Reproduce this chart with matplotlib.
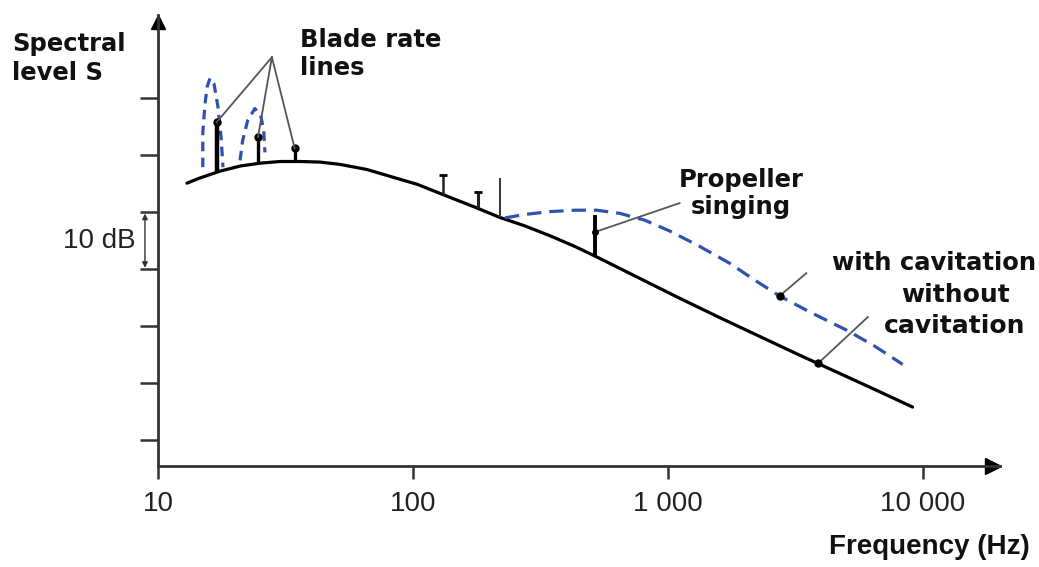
import matplotlib.pyplot as plt

# spectrum without cavitation (solid black)
base_freq = [13, 14.6, 17.5, 21.0, 25.1, 30.1, 36.1, 43.2, 51.7, 66.0, 81.3, 104, 140,
             175, 219, 275, 344, 432, 541, 776, 1114, 1600, 2296, 3297, 4733, 6780, 9140]
base_level = [55.1, 56.0, 57.2, 58.1, 58.6, 58.9, 58.9, 58.8, 58.4, 57.5, 56.3, 54.9, 52.6,
              50.9, 49.1, 47.6, 45.9, 44.0, 41.9, 38.4, 34.9, 31.5, 28.2, 24.9, 21.7, 18.5, 15.8]

# spectrum with cavitation (dashed blue)
cav_freq = [230, 275, 344, 432, 527, 649, 813, 1019, 1335, 1750, 2193, 2748, 3606, 5036, 6486, 8356]
cav_level = [49.0, 49.6, 50.1, 50.35, 50.35, 49.8, 48.6, 46.7, 44.0, 41.05, 38.1, 35.3, 32.5,
             29.3, 26.5, 23.3]

# blade rate bumps with cavitation
bump1_freq = [15.0, 15.0, 15.3, 15.6, 16.0, 16.6, 17.2, 17.7, 18.0]
bump1_level = [57.9, 64.0, 69.0, 72.0, 73.5, 72.5, 68.5, 63.0, 57.9]
bump2_freq = [21.0, 21.5, 22.5, 24.0, 25.3, 26.0, 26.3]
bump2_level = [59.1, 62.6, 66.1, 68.2, 67.0, 64.4, 60.5]

# blade rate lines
blade_freq = [17.0, 24.7, 34.4]
blade_top = [65.8, 63.2, 61.2]
blade_base = [57.2, 58.5, 58.9]

# other tonal lines
line_freq = [131, 180, 219]
line_top = [56.5, 53.5, 56.0]
line_base = [53.1, 50.7, 49.1]

# propeller singing line
sing_freq = 517
sing_top = 49.5
sing_base = 42.4
sing_mark = 46.5

x_ticks = [10, 100, 1000, 10000]
x_labels = ['10', '100', '1 000', '10 000']
y_ticks = [10, 20, 30, 40, 50, 60, 70]

blue = '#2f52b0'
grey = '#555555'
axcol = '#333333'

fig = plt.figure(figsize=(10.39, 5.67), dpi=100)
ax = fig.add_axes([0.152, 0.178, 0.81, 0.795])

ax.plot(base_freq, base_level, color='black', lw=2.3, solid_capstyle='round')
ax.plot(cav_freq, cav_level, color=blue, lw=2.3, dashes=(4.5, 2.5))
ax.plot(bump1_freq, bump1_level, color=blue, lw=2.3, dashes=(3.0, 2.0))
ax.plot(bump2_freq, bump2_level, color=blue, lw=2.3, dashes=(3.0, 2.0))

# blade rate lines
ax.vlines(blade_freq, blade_base, blade_top, colors='black', lw=[3.2, 2.4, 2.4])
ax.plot(blade_freq, blade_top, 'o', color='black', ms=5)

# tonal lines with small caps
ax.vlines(line_freq, line_base, line_top, colors=['#222222', '#222222', '#333333'], lw=[1.8, 2.2, 1.4])
ax.plot(line_freq[:2], line_top[:2], '_', color='black', ms=6, mew=2)

# propeller singing
ax.vlines(sing_freq, sing_base, sing_top, colors='black', lw=2.8)

# leader lines
apex = (28.0, 77.2)
for f, t in zip(blade_freq, blade_top):
    ax.plot([apex[0], f], [apex[1], t], color=grey, lw=1.3)
ax.plot([1114, sing_freq], [51.6, sing_mark], color=grey, lw=1.3)
ax.plot(sing_freq, sing_mark, 'o', color='black', ms=4)
ax.plot([3500, 2750], [39.3, 35.3], color=grey, lw=1.3)
ax.plot(2750, 35.3, 'o', color='black', ms=5)
ax.plot([6100, 3900], [31.6, 23.5], color=grey, lw=1.3)
ax.plot(3900, 23.5, 'o', color='black', ms=5)

ax.set_xscale('log')
ax.set_xlim(10, 20050)
ax.set_ylim(5.44, 84.56)
ax.set_xticks(x_ticks)
ax.set_xticklabels(x_labels)
ax.minorticks_off()
ax.set_yticks(y_ticks)
ax.set_yticklabels([])
ax.tick_params(axis='x', direction='out', length=9, width=1.8, color=axcol,
               labelsize=20, pad=9, labelcolor='#222222')
ax.tick_params(axis='y', direction='out', length=13, width=1.8, color=axcol)
for lab in ax.get_xticklabels():
    lab.set_fontfamily('Liberation Sans')

for s in ['top', 'right']:
    ax.spines[s].set_visible(False)
for s in ['left', 'bottom']:
    ax.spines[s].set_linewidth(2)
    ax.spines[s].set_color(axcol)

# axis arrows
ax.plot(0.992, 0, '>', color='black', ms=11, transform=ax.transAxes, clip_on=False)
ax.plot(0, 0.985, '^', color='black', ms=10, transform=ax.transAxes, clip_on=False)

# 10 dB bracket
ax.annotate('', xy=(-0.0154, 50), xytext=(-0.0154, 40),
            xycoords=('axes fraction', 'data'), textcoords=('axes fraction', 'data'),
            arrowprops=dict(arrowstyle='<|-|>', color='#333333', lw=1, mutation_scale=8,
                            shrinkA=1, shrinkB=1))
ax.text(-0.027, 45, '10 dB', transform=ax.get_yaxis_transform(), ha='right', va='center',
        fontsize=20, family='Liberation Sans', color='#222222')

bold = dict(family='DejaVu Sans', fontweight='bold', color='#111111', fontsize=17.5)
fig.text(12 / 1039, 1 - 32 / 567, 'Spectral\nlevel S', ha='left', va='top', linespacing=1.26, **bold)
fig.text(300 / 1039, 1 - 28 / 567, 'Blade rate\nlines', ha='left', va='top', linespacing=1.2, **bold)
fig.text(741 / 1039, 1 - 168 / 567, 'Propeller\nsinging', ha='center', va='top', linespacing=1.15, **bold)
fig.text(934 / 1039, 1 - 263 / 567, 'with cavitation', ha='center', va='center', **bold)
fig.text(955 / 1039, 1 - 283 / 567, 'without\ncavitation', ha='center', va='top',
         family='DejaVu Sans', fontweight='bold', color='#111111', fontsize=18, linespacing=1.35)
fig.text(1030 / 1039, 1 - 547 / 567, 'Frequency (Hz)', ha='right', va='center', fontsize=20,
         family='Liberation Sans', fontweight='bold', color='#111111')

plt.savefig('out.png')
